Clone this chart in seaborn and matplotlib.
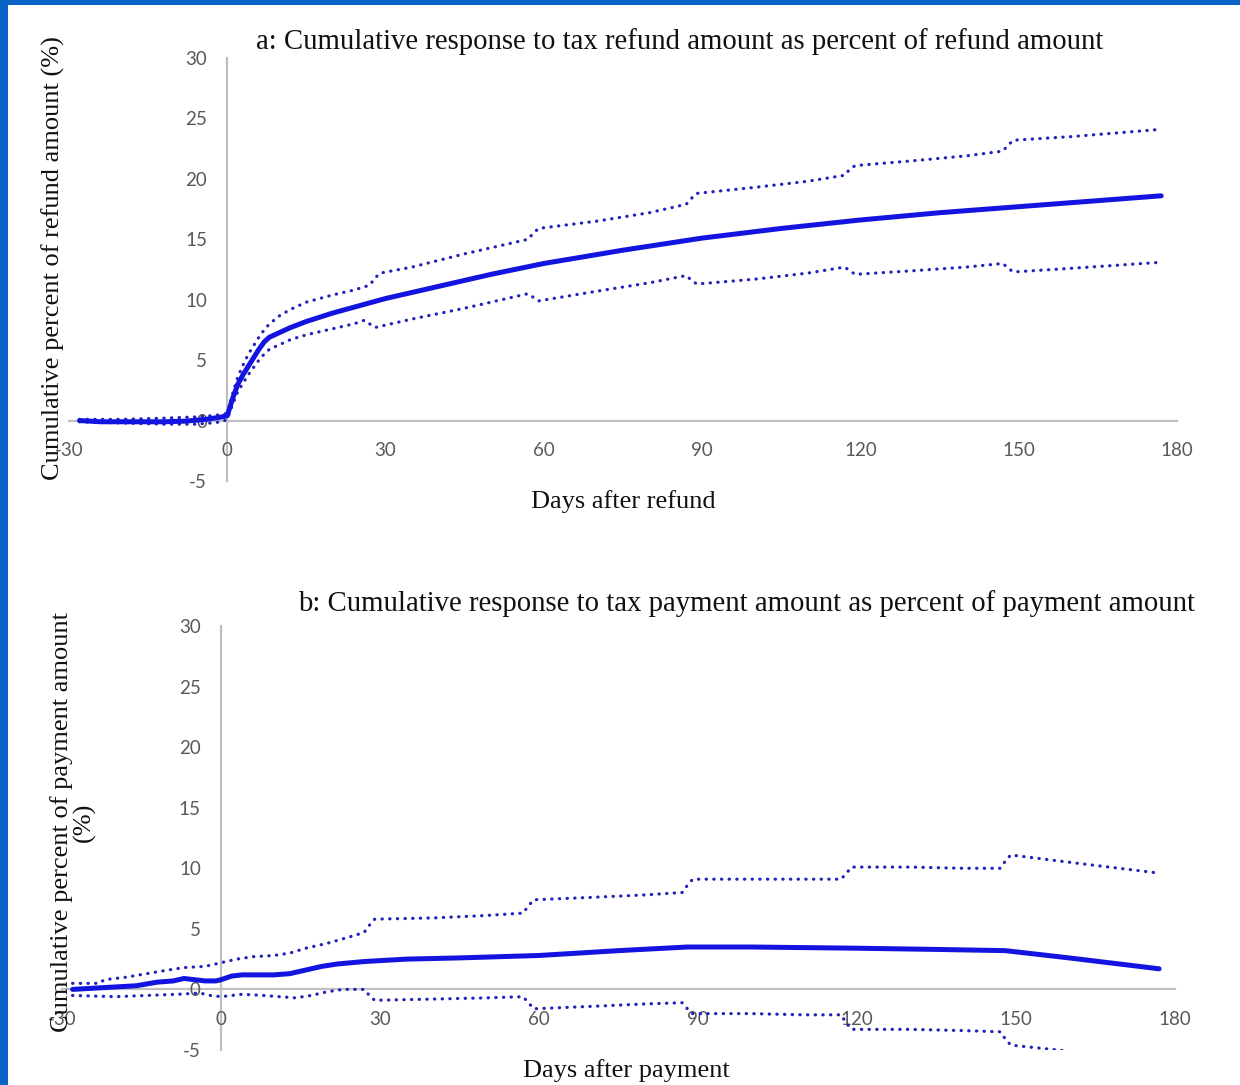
import numpy as np
import pandas as pd
import matplotlib
matplotlib.use("Agg")
import matplotlib.pyplot as plt
import matplotlib.patches as patches
import seaborn as sns

# ================== data ==================
# panel a: refund
a_mid_days = [-28, -24, -20, -16, -12, -8, -4, -1, 0, 1, 2, 3, 4, 5, 6, 7, 8, 10, 12, 15,
              20, 25, 30, 40, 50, 60, 75, 90, 105, 120, 135, 150, 165, 177]
a_mid = [0.0, -0.1, -0.1, -0.1, -0.1, -0.05, 0.1, 0.3, 0.4, 1.8, 3.0, 3.8, 4.5, 5.2, 5.9, 6.5, 6.9, 7.3, 7.7, 8.2,
         8.9, 9.5, 10.1, 11.1, 12.1, 13.0, 14.1, 15.1, 15.9, 16.6, 17.2, 17.7, 18.2, 18.6]

a_hi_days = [-28, -20, -12, -6, -3, -1, 0, 1, 2, 3, 4, 5, 6, 7, 8, 10, 12, 15, 20, 24, 27, 28, 29,
             35, 45, 57, 58, 59, 70, 80, 87, 88, 89, 100, 110, 117, 118, 119, 130, 140, 147, 148, 149, 160, 177]
a_hi = [0.1, 0.1, 0.2, 0.3, 0.4, 0.5, 0.6, 2.2, 3.6, 4.6, 5.5, 6.2, 6.9, 7.5, 8.0, 8.7, 9.2, 9.8, 10.4, 10.8, 11.2, 11.8, 12.2,
        12.7, 13.8, 15.0, 15.5, 15.9, 16.5, 17.2, 17.9, 18.4, 18.8, 19.3, 19.8, 20.3, 20.8, 21.1, 21.5, 21.9, 22.3, 22.8, 23.2, 23.5, 24.1]

a_lo_days = [-28, -20, -12, -6, -3, -1, 0, 1, 2, 3, 4, 5, 6, 7, 8, 10, 12, 15, 20, 24, 26, 27, 28,
             35, 45, 57, 58, 59, 70, 80, 87, 88, 89, 100, 110, 117, 118, 119, 130, 140, 147, 148, 149, 160, 177]
a_lo = [-0.1, -0.2, -0.3, -0.3, -0.2, -0.1, 0.1, 1.3, 2.4, 3.1, 3.8, 4.4, 5.0, 5.5, 5.9, 6.3, 6.7, 7.1, 7.6, 8.0, 8.3, 8.0, 7.7,
        8.4, 9.3, 10.5, 10.2, 9.9, 10.7, 11.4, 12.0, 11.6, 11.3, 11.7, 12.2, 12.7, 12.4, 12.1, 12.4, 12.7, 13.0, 12.6, 12.3, 12.6, 13.1]

# panel b: payment
b_mid_days = [-28, -24, -20, -16, -12, -9, -7, -5, -3, -1, 0, 2, 4, 7, 10, 13, 16, 19, 22, 27,
              35, 45, 60, 75, 88, 100, 120, 135, 148, 160, 177]
b_mid = [0.0, 0.1, 0.2, 0.3, 0.6, 0.7, 0.9, 0.8, 0.7, 0.7, 0.8, 1.1, 1.2, 1.2, 1.2, 1.3, 1.6, 1.9, 2.1, 2.3,
         2.5, 2.6, 2.8, 3.2, 3.5, 3.5, 3.4, 3.3, 3.2, 2.6, 1.7]

b_hi_days = [-28, -23, -22, -18, -14, -10, -7, -3, 0, 3, 6, 10, 13, 16, 20, 24, 27, 28, 29,
             40, 50, 57, 58, 59, 70, 80, 87, 88, 89, 100, 110, 117, 118, 119, 130, 140, 147, 148, 149, 160, 177]
b_hi = [0.5, 0.5, 0.8, 1.0, 1.3, 1.6, 1.8, 1.9, 2.2, 2.5, 2.7, 2.8, 3.0, 3.4, 3.8, 4.3, 4.7, 5.3, 5.8,
        5.9, 6.1, 6.3, 6.9, 7.4, 7.6, 7.8, 8.0, 8.6, 9.1, 9.1, 9.1, 9.1, 9.6, 10.1, 10.1, 10.0, 10.0, 10.6, 11.1, 10.5, 9.6]

b_lo_days = [-28, -20, -14, -8, -4, -2, 0, 4, 8, 14, 17, 20, 23, 27, 28, 29,
             40, 50, 57, 58, 59, 70, 80, 87, 88, 89, 100, 110, 117, 118, 119, 130, 140, 147, 148, 149, 160]
b_lo = [-0.5, -0.6, -0.5, -0.4, -0.3, -0.5, -0.6, -0.4, -0.5, -0.7, -0.5, -0.2, 0.0, 0.0, -0.5, -0.9,
        -0.8, -0.7, -0.6, -1.1, -1.6, -1.4, -1.2, -1.1, -1.6, -2.0, -2.0, -2.1, -2.1, -2.8, -3.3, -3.3, -3.4, -3.5, -4.1, -4.6, -5.1]

x_ticks = [-30, 0, 30, 60, 90, 120, 150, 180]
y_ticks = [-5, 0, 5, 10, 15, 20, 25, 30]

titles = ["a: Cumulative response to tax refund amount as percent of refund amount",
          "b: Cumulative response to tax payment amount as percent of payment amount"]
xlabels = ["Days after refund", "Days after payment"]
ylabels = ["Cumulative percent of refund amount (%)",
           "Cumulative percent of payment amount\n(%)"]

# ================== style ==================
sns.set_theme(style="white")
plt.rcParams['font.family'] = ['Lato', 'DejaVu Sans']
plt.rcParams['axes.unicode_minus'] = False

serif = ['Liberation Serif', 'DejaVu Serif']
main_color = "#1414e0"
band_color = "#2222bb"
axis_gray = "#bfbfbf"
tick_gray = "#595959"
text_dark = "#111111"

fig = plt.figure(figsize=(12.4, 10.85), dpi=100)

# axes positions [left, bottom, width, height]
ax_a = fig.add_axes([0.0556, 0.5567, 0.9492 - 0.0556, 0.9465 - 0.5567])
ax_b = fig.add_axes([0.0500, 0.0323, 0.9476 - 0.0500, 0.4230 - 0.0323])

panels = [
    (ax_a, (a_mid_days, a_mid), (a_hi_days, a_hi), (a_lo_days, a_lo)),
    (ax_b, (b_mid_days, b_mid), (b_hi_days, b_hi), (b_lo_days, b_lo)),
]

for idx, (ax, mid, hi, lo) in enumerate(panels):
    # confidence bands, dotted
    for (xs, ys) in (hi, lo):
        df = pd.DataFrame({"day": xs, "val": ys})
        sns.lineplot(data=df, x="day", y="val", ax=ax, color=band_color,
                     linewidth=2.3, linestyle=(0, (0.1, 2.3)),
                     dash_capstyle="round", estimator=None)
    # point estimate, solid
    df = pd.DataFrame({"day": mid[0], "val": mid[1]})
    sns.lineplot(data=df, x="day", y="val", ax=ax, color=main_color,
                 linewidth=3.6, estimator=None, solid_capstyle="round")

    ax.set_xlim(-30, 180)
    ax.set_ylim(-5, 30)
    ax.set_xticks(x_ticks)
    ax.set_xticklabels([str(t) for t in x_ticks])
    ax.set_yticks(y_ticks)
    ax.set_yticklabels([str(t) for t in y_ticks])

    # axes cross at the origin, Excel style
    for s in ["top", "right"]:
        ax.spines[s].set_visible(False)
    ax.spines["left"].set_position(("data", 0))
    ax.spines["bottom"].set_position(("data", 0))
    for s in ["left", "bottom"]:
        ax.spines[s].set_color(axis_gray)
        ax.spines[s].set_linewidth(1.6)
        ax.spines[s].set_zorder(0.5)
    ax.tick_params(axis="both", direction="inout", length=9, width=1.3,
                   color=axis_gray, labelcolor=tick_gray, labelsize=13.5)
    ax.tick_params(axis="y", pad=10)
    ax.tick_params(axis="x", pad=11)
    ax.patch.set_alpha(0)

    ax.set_xlabel(xlabels[idx], fontsize=19, family=serif, color=text_dark)
    ax.set_ylabel(ylabels[idx], fontsize=19, family=serif, color=text_dark,
                  linespacing=0.95)

ax_a.xaxis.set_label_coords(0.5, -0.022)
ax_b.xaxis.set_label_coords(0.507, -0.022)
ax_a.yaxis.set_label_coords(-0.004, 0.527)
ax_b.yaxis.set_label_coords(0.030, 0.538)

fig.text(680 / 1240, 1 - 42 / 1085, titles[0], ha="center", va="center",
         fontsize=20.7, family=serif, color=text_dark)
fig.text(747 / 1240, 1 - 604 / 1085, titles[1], ha="center", va="center",
         fontsize=20.7, family=serif, color=text_dark)

# blue frame at the top and left edge
frame_blue = "#0a64c8"
fig.patches.append(patches.Rectangle((0, 0), 8 / 1240, 1, transform=fig.transFigure,
                                     facecolor=frame_blue, edgecolor="none", zorder=10))
fig.patches.append(patches.Rectangle((0, 1 - 5 / 1085), 1, 5 / 1085, transform=fig.transFigure,
                                     facecolor=frame_blue, edgecolor="none", zorder=10))

fig.savefig("out.png", dpi=100, facecolor="white")
